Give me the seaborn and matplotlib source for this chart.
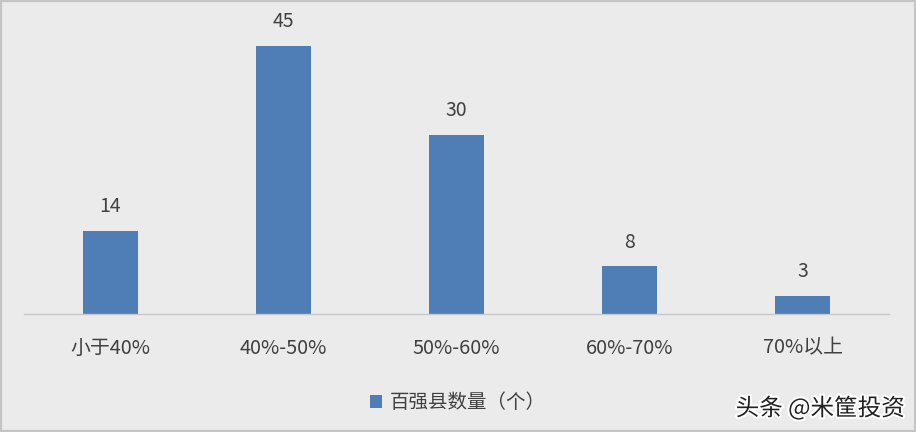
import matplotlib
matplotlib.use("Agg")
import matplotlib.pyplot as plt
import matplotlib.patheffects as pe
from matplotlib.patches import Rectangle
import pandas as pd
import seaborn as sns

# Data
categories = ["小于40%", "40%-50%", "50%-60%", "60%-70%", "70%以上"]
counts = [14, 45, 30, 8, 3]
series_name = "百强县数量（个）"

BG = "#ebebeb"
BAR = "#4f7db5"
TEXT = "#404040"

df = pd.DataFrame({"区间": categories, series_name: counts})

sns.set_theme(style = "white")
plt.rcParams["font.family"] = ["Noto Sans CJK SC", "DejaVu Sans"]

fig = plt.figure(figsize = (9.16, 4.32), dpi = 100, facecolor = BG)
ax = fig.add_axes([24 / 916, 118 / 432, 865 / 916, 300 / 432])
ax.set_facecolor(BG)

sns.barplot(data = df, x = "区间", y = series_name, color = BAR, width = 0.32,
            saturation = 1, ax = ax, label = series_name, linewidth = 0)
if ax.get_legend() is not None:
    ax.get_legend().remove()

ax.set_xlim(-0.5, 4.5)
ax.set_ylim(0, 50.3)

for i, v in enumerate(counts):
    ax.text(i, v + 2.3, str(v), ha = "center", va = "bottom", fontsize = 14, color = TEXT)

for s in ["top", "right", "left"]:
    ax.spines[s].set_visible(False)
ax.spines["bottom"].set_color("#c8c8c8")
ax.spines["bottom"].set_linewidth(1)
ax.set_yticks([])
ax.set_xlabel("")
ax.set_ylabel("")
ax.tick_params(axis = "x", length = 0, pad = 17, labelsize = 14.3, labelcolor = TEXT)

# legend
handles, labels = ax.get_legend_handles_labels()
fig.legend(handles[:1], labels[:1], loc = "center", bbox_to_anchor = (0.5, 29 / 432), frameon = False,
           fontsize = 14, handlelength = 0.6, handleheight = 0.6, handletextpad = 0.4,
           labelcolor = TEXT)

# watermark
fig.text(905 / 916, 24 / 432, "头条 @米筐投资", ha = "right", va = "center", fontsize = 17,
         color = "#222222", path_effects = [pe.withStroke(linewidth = 3, foreground = "white")])

# border
fig.patches.append(Rectangle((0, 0), 1, 1, transform = fig.transFigure, fill = False,
                             edgecolor = "#c4c4c4", linewidth = 3))

fig.savefig("out.png", dpi = 100, facecolor = BG)
